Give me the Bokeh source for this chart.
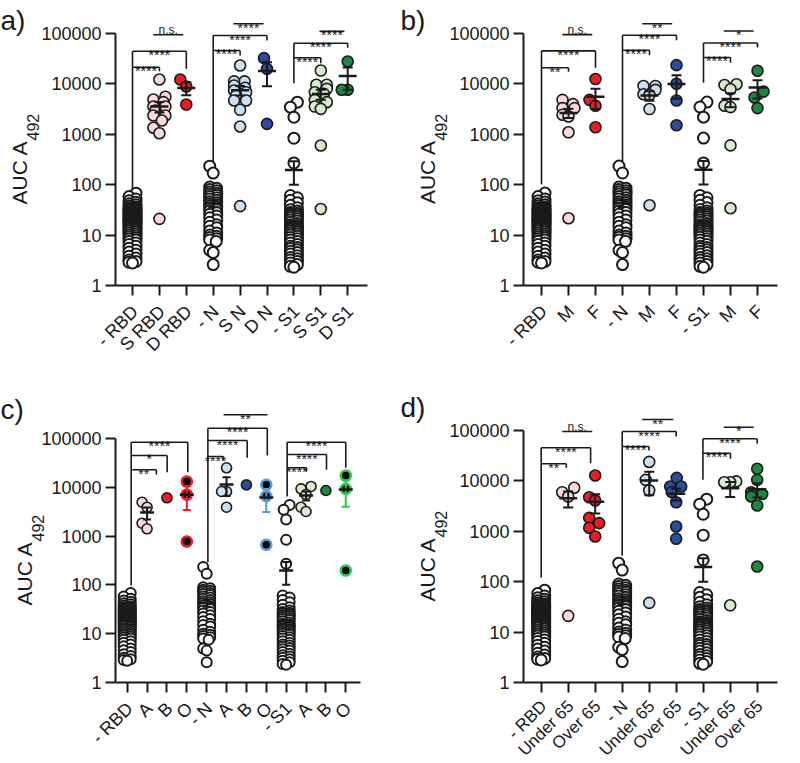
import numpy as np
from math import pi
from bokeh.plotting import figure
from bokeh.models import Range1d, FixedTicker, PrintfTickFormatter
from bokeh.layouts import column, row
from bokeh.core.properties import value
from bokeh.embed import file_html
from bokeh.resources import INLINE

FONT = "Liberation Sans"
FONT_V = value(FONT)
INK = "#1a1a1a"
PINK = "#f8dada"; RED = "#ec1c24"
LBLUE = "#cde0f2"; BLUE = "#2a4d9e"
LGREEN = "#d8ebcf"; GREEN = "#178a40"
O_RED = "#ec1c24"; O_BLUE = "#5b9bd5"; O_GREEN = "#2fc84a"

# ---------------- data (AUC A492) ----------------
neg_rbd = [68, 58, 52, 48, 45, 42, 40, 38, 36, 35, 34, 33, 32, 31, 30, 29, 28, 27, 26.5, 26,
           25, 24.5, 24, 23, 22.5, 22, 21.5, 21, 20.5, 20, 19.5, 19, 18.5, 18, 17.5, 17, 16.5,
           16, 15.5, 15, 14.5, 14, 13.5, 13, 12.5, 12, 11.5, 11, 10.5, 10, 9.6, 9.2, 8.8, 8.4,
           8, 7.5, 7, 6.5, 6, 5.5, 5, 4.6, 4.2, 3.8, 3.5, 3.2, 3.0, 2.9, 2.8]
neg_n = [233, 170, 90, 85, 80, 76, 72, 68, 65, 62, 58, 55, 52, 49, 46, 44, 42, 40, 38, 36,
         34, 32, 30, 28, 26, 24, 22, 20, 18, 16, 15, 14, 12, 11, 10, 9.5, 9, 8.5, 8, 7.5,
         5, 4.5, 2.6]
neg_s1 = [4340, 3460, 2180, 837, 270, 61, 55, 49, 44, 39, 35, 32, 30, 28, 27, 26, 25, 24, 23,
          22, 21, 20, 19, 18, 17, 16, 15.5, 15, 14.5, 14, 13.5, 13, 12.5, 12, 11.5, 11, 10.5,
          10, 9.5, 9, 8.5, 8, 7.5, 7, 6.5, 6, 5.7, 5.4, 5.1, 4.8, 4.5, 4.2, 3.9, 3.6, 3.4,
          3.2, 3.0, 2.8, 2.6, 2.4, 2.3]

# panel a: severity
a_labels = ["- RBD", "S RBD", "D RBD", "- N", "S N", "D N", "- S1", "S S1", "D S1"]
a_s_rbd = [12200, 4900, 5550, 4340, 3550, 3550, 2960, 2360, 2360, 1880, 1350, 1050, 21]
a_d_rbd = [12200, 8900, 3900]
a_s_n = [23200, 11200, 11200, 9300, 8400, 7400, 6840, 5890, 4700, 4700, 3060, 1430, 37.5]
a_d_n = [32400, 19900, 1610]
a_s_s1 = [18400, 9600, 9600, 7970, 6840, 6330, 4800, 4340, 3550, 3200, 600, 33]
a_d_s1 = [27800, 7640, 7640]

# panel b: sex
b_labels = ["- RBD", "M", "F", "- N", "M", "F", "- S1", "M", "F"]
b_m_rbd = [4800, 3950, 3290, 3290, 2430, 2240, 1090, 21.5]
b_f_rbd = [12400, 4800, 3660, 1370]
b_m_n = [9050, 9050, 7550, 6200, 6000, 3150, 39]
b_f_n = [23400, 10000, 4650, 1500]
b_m_s1 = [9780, 9470, 7800, 3660, 3440, 600, 34]
b_f_s1 = [18100, 7000, 5330, 3290]

# panel c: blood group
c_labels = ["- RBD", "A", "B", "O", "- N", "A", "B", "O", "- S1", "A", "B", "O"]
c_a_rbd = [4950, 3910, 1840, 1410]
c_b_rbd = [6100]
c_o_rbd = [13150, 7120, 775]
c_a_n = [25100, 8200, 8200, 3910]
c_b_n = [11200]
c_o_n = [11300, 6600, 663]
c_a_s1 = [10400, 9300, 7120, 3910, 3190]
c_b_s1 = [8600]
c_o_s1 = [17500, 9300, 197]

# panel d: age
d_labels = ["- RBD", "Under 65", "Over 65", "- N", "Under 65", "Over 65", "- S1", "Under 65", "Over 65"]
d_u_rbd = [7300, 5970, 4900, 21]
d_o_rbd = [12800, 4750, 4080, 1850, 1450, 1175, 789]
d_u_n = [23800, 10500, 6500, 38]
d_o_n = [11500, 7740, 7740, 6000, 3780, 1245, 710]
d_u_s1 = [9800, 9400, 9400, 34]
d_o_s1 = [17400, 10500, 5970, 5500, 4900, 3250, 200]

# significance brackets: left category, leg bottom (log10), arms (right cat, log10 height, log10 leg end, label),
# and an optional bar between two groups (x from, x to, log10 height, label)
a_br = [dict(left=1, leg=1.925, arms=[(2, 4.331, 4.252, "****"), (3, 4.649, 4.30, "****")], top=(1.77, 2.89, 4.974, "n.s.")),
        dict(left=4, leg=2.446, arms=[(5, 4.663, 4.563, "****"), (6, 4.96, 4.861, "****")], top=(4.75, 5.87, 5.192, "****")),
        dict(left=7, leg=4.014, arms=[(8, 4.518, 4.411, "****"), (9, 4.808, 4.716, "****")], top=(7.95, 8.88, 5.046, "****"))]
b_br = [dict(left=1, leg=2.008, arms=[(2, 4.317, 4.238, "**"), (3, 4.652, 4.317, "****")], top=(1.77, 2.88, 4.974, "n.s.")),
        dict(left=4, leg=2.467, arms=[(5, 4.665, 4.567, "****"), (6, 4.961, 4.862, "****")], top=(4.73, 5.84, 5.191, "**")),
        dict(left=7, leg=4.022, arms=[(8, 4.522, 4.415, "****"), (9, 4.809, 4.719, "****")], top=(7.75, 8.86, 5.045, "*"))]
c_br = [dict(left=1.2, leg=1.988, arms=[(2.47, 4.359, 4.262, "**"), (3.01, 4.652, 4.309, "*"), (4.05, 4.924, 4.309, "****")], top=None),
        dict(left=5.06, leg=2.465, arms=[(5.83, 4.631, 4.549, "****"), (7.04, 4.959, 4.604, "****"), (8.05, 5.211, 4.652, "****")], top=(5.85, 8.06, 5.486, "**")),
        dict(left=9.05, leg=3.811, arms=[(10.02, 4.4, 4.33, "****"), (11.03, 4.672, 4.359, "****"), (12.0, 4.924, 4.4, "****")], top=None)]
d_br = [dict(left=1, leg=2.083, arms=[(1.93, 4.339, 4.26, "**"), (2.83, 4.657, 4.351, "****")], top=(1.78, 2.89, 4.98, "n.s.")),
        dict(left=4, leg=2.52, arms=[(4.99, 4.683, 4.603, "****"), (6.0, 4.98, 4.881, "****")], top=(4.74, 5.89, 5.218, "**")),
        dict(left=6.99, leg=4.022, arms=[(8.01, 4.55, 4.438, "****"), (9.0, 4.835, 4.736, "****")], top=(7.76, 8.87, 5.065, "*"))]

NEG = dict(fill="white", line=INK, bar=INK, lw=2.0, spread=3.5)
def solid(c):
    return dict(fill=c, line=INK, bar=INK, lw=1.6, spread=6)
def ring(c):
    return dict(fill="black", line=c, bar=c, lw=2.6, spread=6)


def swarm(vals, decade, diam, max_half):
    ys = np.log10(np.asarray(vals, float)) * decade
    order = np.argsort(ys)
    cand = sorted(np.arange(-max_half, max_half + 0.01, 0.5), key=lambda c: (abs(c), c))
    placed = []
    xs = np.zeros(len(ys))
    for i in order:
        best, best_cost = 0.0, None
        for c in cand:
            cost = 0.0
            for (px, py) in placed:
                d = np.hypot(c - px, ys[i] - py)
                if d < diam:
                    cost += diam - d
            if cost == 0:
                best = c
                break
            if best_cost is None or cost < best_cost:
                best_cost, best = cost, c
        xs[i] = best
        placed.append((best, ys[i]))
    return xs


def panel(letter, labels, series, styles, brackets, g):
    W, H = g["W"], g["H"]
    fl, ft, sp, fr, y1, dec, top = g["fl"], g["first"], g["sp"], g["fr"], g["y1"], g["dec"], g["top"]
    xs0 = 1 - (ft - fl) / sp
    xe = 1 + (fr - ft) / sp
    ye = 10 ** ((y1 - top) / dec)
    p = figure(width=W, height=H, x_range=Range1d(xs0, xe), y_range=Range1d(1, ye), y_axis_type="log",
               output_backend="svg", toolbar_location=None,
               min_border_left=fl, min_border_right=W - fr, min_border_top=top, min_border_bottom=H - y1)
    p.outline_line_color = None
    p.xgrid.visible = False
    p.ygrid.visible = False
    p.background_fill_color = "white"
    p.border_fill_color = "white"

    ya = p.yaxis[0]
    ya.ticker = FixedTicker(ticks=[1, 10, 100, 1000, 10000, 100000], minor_ticks=[])
    ya.formatter = PrintfTickFormatter(format="%d")
    ya.bounds = (1, 100000)
    xa = p.xaxis[0]
    ticks = list(range(1, len(labels) + 1))
    xa.ticker = FixedTicker(ticks=ticks, minor_ticks=[])
    xa.major_label_overrides = {t: "" for t in ticks}
    xa.major_label_standoff = 0
    for ax in (xa, ya):
        ax.axis_line_width = 2
        ax.axis_line_color = INK
        ax.major_tick_line_width = 2
        ax.major_tick_line_color = INK
        ax.major_tick_out = 10
        ax.major_tick_in = 0
        ax.minor_tick_line_color = None
    ya.major_label_text_font = FONT
    ya.major_label_text_font_size = "18px"
    ya.major_label_text_color = INK
    ya.major_label_standoff = 4

    diam = g["size"]
    mean_hw, cap_hw = g["mean_hw"], g["cap_hw"]
    # points
    for i, (vals, st) in enumerate(zip(series, styles)):
        cx = i + 1
        off = swarm(vals, dec, diam, min(st["spread"], g["spread"]))
        p.scatter(cx + off / sp, vals, size=diam, marker="circle", fill_color=st["fill"],
                  line_color=st["line"], line_width=st["lw"])
    # mean +/- SEM
    for i, (vals, st) in enumerate(zip(series, styles)):
        v = np.asarray(vals, float)
        if len(v) < 2:
            continue
        cx = i + 1
        m = v.mean()
        se = v.std(ddof=1) / np.sqrt(len(v))
        lo, hi = max(m - se, 1.01), m + se
        p.segment(cx, lo, cx, hi, line_color=st["bar"], line_width=2)
        p.segment([cx - cap_hw / sp] * 2, [lo, hi], [cx + cap_hw / sp] * 2, [lo, hi], line_color=st["bar"], line_width=2)
        p.segment(cx - mean_hw / sp, m, cx + mean_hw / sp, m, line_color=INK, line_width=2.5)

    def txt(x, y, s, size, align="center", baseline="alphabetic", angle=0.0, level="glyph"):
        p.text([x], [y], text=[s], text_font_size=size, text_color=INK, angle=angle,
               text_align=align, text_baseline=baseline, text_font=FONT_V, level=level)

    # brackets
    for b in brackets:
        top_arm = max(a[1] for a in b["arms"])
        p.segment(b["left"], 10 ** b["leg"], b["left"], 10 ** top_arm, line_color=INK, line_width=1.6)
        for (xr, h, hl, lab) in b["arms"]:
            p.segment(b["left"], 10 ** h, xr, 10 ** h, line_color=INK, line_width=1.6)
            p.segment(xr, 10 ** h, xr, 10 ** hl, line_color=INK, line_width=1.6)
            txt((b["left"] + xr) / 2, 10 ** (h - 4 / dec), lab, "14px")
        if b["top"] is not None:
            x1, x2, h, lab = b["top"]
            p.segment(x1, 10 ** h, x2, 10 ** h, line_color=INK, line_width=1.6)
            if lab == "n.s.":
                txt((x1 + x2) / 2, 10 ** (h + 5 / dec), lab, "12px")
            else:
                txt((x1 + x2) / 2, 10 ** (h - 4 / dec), lab, "14px")

    # category labels (outside the frame -> overlay level)
    for i, lab in enumerate(labels):
        txt(i + 1 + 2.5 / sp, 10 ** (-g["xl_dy"] / dec), lab, g["xl_fs"], align="right", baseline="middle",
            angle=pi / 4, level="overlay")
    # y-axis title  AUC A492
    yb = 2.5 - 45 / dec
    txt(xs0 - g["yl"] / sp, 10 ** yb, "AUC A", "21px", align="left", angle=pi / 2, level="overlay")
    txt(xs0 - (g["yl"] - 13) / sp, 10 ** (yb + 64 / dec), "492", "16px", align="left", angle=pi / 2, level="overlay")
    # panel letter
    txt(xs0 - fl / sp, 10 ** ((y1 - g["lb"]) / dec), letter, "28px", align="left", level="overlay")
    return p


GA = dict(W=400, H=380, fl=115, first=132, sp=26.9, fr=367, y1=285, dec=50.4, top=10, size=11,
          spread=6, mean_hw=9, cap_hw=5, lb=20, yl=96, xl_dy=23, xl_fs="18px")
GB = dict(W=392, H=380, fl=123, first=141, sp=27.0, fr=377, y1=287, dec=50.8, top=10, size=11,
          spread=6, mean_hw=9, cap_hw=5, lb=20, yl=96, xl_dy=23, xl_fs="18px")
GC = dict(W=400, H=380, fl=115, first=126.7, sp=19.87, fr=360, y1=302, dec=48.8, top=20, size=10,
          spread=5, mean_hw=7, cap_hw=4, lb=29, yl=91, xl_dy=23, xl_fs="18px")
GD = dict(W=392, H=380, fl=123, first=140.7, sp=27.0, fr=377, y1=302, dec=50.4, top=20, size=11,
          spread=6, mean_hw=9, cap_hw=5, lb=27, yl=96, xl_dy=21, xl_fs="17px")

pa = panel("a)", a_labels,
           [neg_rbd, a_s_rbd, a_d_rbd, neg_n, a_s_n, a_d_n, neg_s1, a_s_s1, a_d_s1],
           [NEG, solid(PINK), solid(RED), NEG, solid(LBLUE), solid(BLUE), NEG, solid(LGREEN), solid(GREEN)],
           a_br, GA)
pb = panel("b)", b_labels,
           [neg_rbd, b_m_rbd, b_f_rbd, neg_n, b_m_n, b_f_n, neg_s1, b_m_s1, b_f_s1],
           [NEG, solid(PINK), solid(RED), NEG, solid(LBLUE), solid(BLUE), NEG, solid(LGREEN), solid(GREEN)],
           b_br, GB)
pc = panel("c)", c_labels,
           [neg_rbd, c_a_rbd, c_b_rbd, c_o_rbd, neg_n, c_a_n, c_b_n, c_o_n, neg_s1, c_a_s1, c_b_s1, c_o_s1],
           [NEG, solid(PINK), solid(RED), ring(O_RED), NEG, solid(LBLUE), solid(BLUE), ring(O_BLUE),
            NEG, solid(LGREEN), solid(GREEN), ring(O_GREEN)],
           c_br, GC)
pd_ = panel("d)", d_labels,
            [neg_rbd, d_u_rbd, d_o_rbd, neg_n, d_u_n, d_o_n, neg_s1, d_u_s1, d_o_s1],
            [NEG, solid(PINK), solid(RED), NEG, solid(LBLUE), solid(BLUE), NEG, solid(LGREEN), solid(GREEN)],
            d_br, GD)

layout = column(row(pa, pb, spacing=0), row(pc, pd_, spacing=0), spacing=0)
open("out.html", "w").write(file_html(layout, INLINE, title="AUC A492"))
